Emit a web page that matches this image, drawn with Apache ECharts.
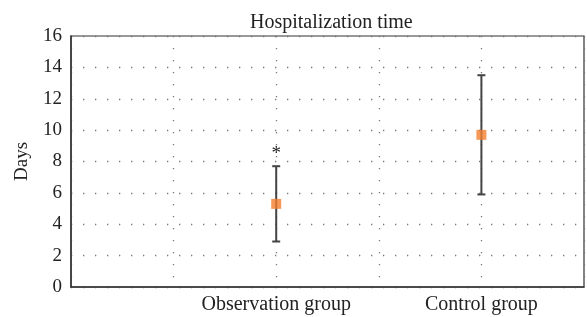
<!DOCTYPE html>
<html>
<head>
<meta charset="utf-8">
<script src="https://cdn.jsdelivr.net/npm/echarts@6/dist/echarts.min.js"></script>
<style>
  html, body { margin: 0; padding: 0; background: #fff; }
  #chart { width: 587px; height: 317px; }
</style>
</head>
<body>
<div id="chart"></div>
<script>
var chart = echarts.init(document.getElementById('chart'));

// group names and where they sit on the x axis
var groups = ['Observation group', 'Control group'];
var groupPos = [2, 4];
// mean and SD of hospitalization days
var means = [5.3, 9.7];
var sds = [2.4, 3.8];
// significance mark above the bar
var sigMarks = ['*', ''];

var yTicks = [0, 2, 4, 6, 8, 10, 12, 14, 16];

var serif = '"Liberation Serif", "DejaVu Serif", serif';

var pointData = groupPos.map(function (x, i) { return [x, means[i]]; });
var barData = groupPos.map(function (x, i) {
    return [x, means[i] - sds[i], means[i] + sds[i], i];
});

var option = {
    animation: false,
    title: {
        text: 'Hospitalization time',
        left: 245,
        top: 8,
        textStyle: { fontFamily: serif, fontSize: 20, fontWeight: 'normal', color: '#222' }
    },
    grid: {
        left: 71, right: 2, top: 36, bottom: 30,
        show: true, borderColor: '#333', borderWidth: 1.2
    },
    xAxis: {
        type: 'value',
        min: 0, max: 5, interval: 1,
        axisLine: { lineStyle: { color: '#333', width: 1.5 } },
        axisTick: { show: false },
        axisLabel: {
            fontFamily: serif, fontSize: 20, color: '#222', margin: 8,
            formatter: function (v) {
                var i = groupPos.indexOf(v);
                return i >= 0 ? groups[i] : '';
            }
        },
        splitLine: { show: true, lineStyle: { type: [1.3, 10.7], color: '#777', width: 1.3 } }
    },
    yAxis: {
        type: 'value',
        min: yTicks[0], max: yTicks[yTicks.length - 1], interval: 2,
        name: 'Days',
        nameLocation: 'middle',
        nameGap: 39,
        nameTextStyle: { fontFamily: serif, fontSize: 19, color: '#222' },
        axisLine: { show: true, lineStyle: { color: '#333', width: 1.5 } },
        axisTick: { show: false },
        axisLabel: { fontFamily: serif, fontSize: 19, color: '#222', margin: 9 },
        splitLine: { show: true, lineStyle: { type: [1.3, 10.7], color: '#777', width: 1.3 } }
    },
    series: [
        {
            type: 'custom',
            data: barData,
            z: 2,
            renderItem: function (params, api) {
                var x = api.value(0);
                var lo = api.coord([x, api.value(1)]);
                var hi = api.coord([x, api.value(2)]);
                var cap = 4;
                var style = { stroke: '#444', lineWidth: 2 };
                var children = [
                    { type: 'line', shape: { x1: lo[0], y1: lo[1], x2: hi[0], y2: hi[1] }, style: style },
                    { type: 'line', shape: { x1: lo[0] - cap, y1: lo[1], x2: lo[0] + cap, y2: lo[1] }, style: style },
                    { type: 'line', shape: { x1: hi[0] - cap, y1: hi[1], x2: hi[0] + cap, y2: hi[1] }, style: style }
                ];
                var mark = sigMarks[api.value(3)];
                if (mark) {
                    children.push({
                        type: 'text',
                        style: {
                            text: mark, x: hi[0], y: hi[1] - 3,
                            align: 'center', verticalAlign: 'bottom',
                            fontFamily: serif, fontSize: 19, fill: '#222'
                        }
                    });
                }
                return { type: 'group', children: children };
            }
        },
        {
            type: 'scatter',
            data: pointData,
            symbol: 'rect',
            symbolSize: 10,
            z: 3,
            itemStyle: { color: '#f47f2e' }
        }
    ]
};

chart.setOption(option);
window.onresize = chart.resize;
</script>
</body>
</html>
